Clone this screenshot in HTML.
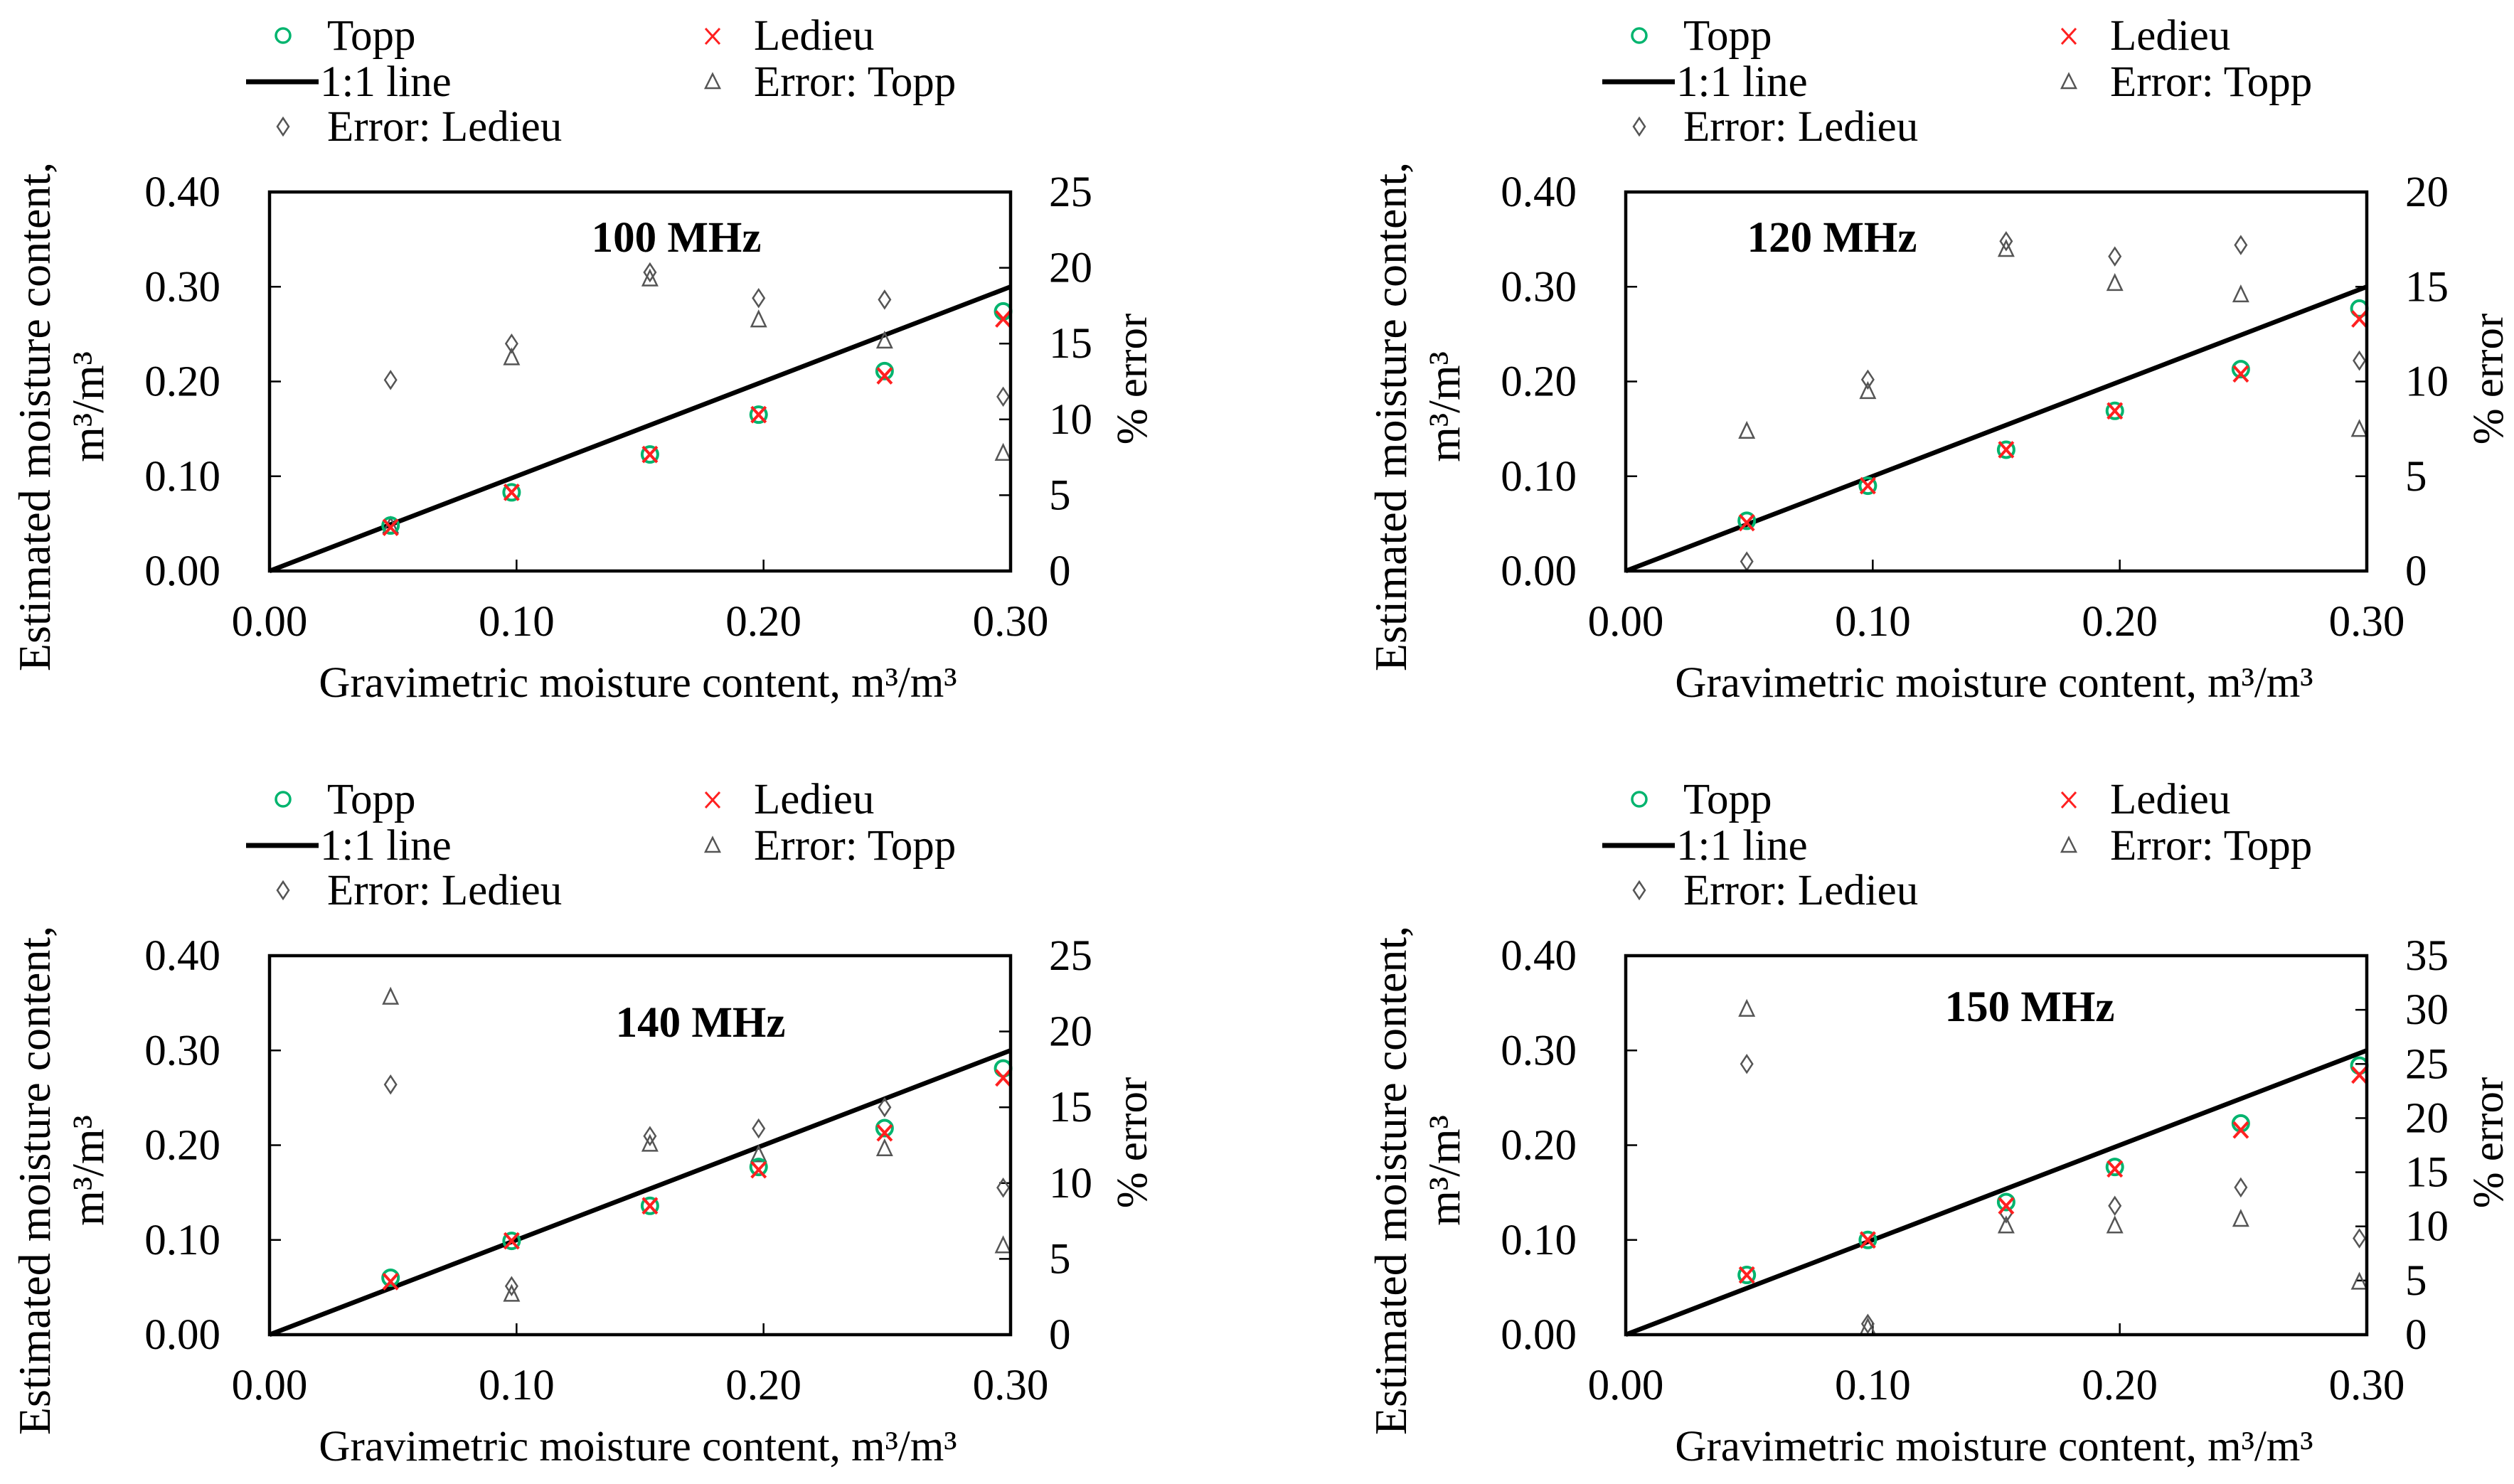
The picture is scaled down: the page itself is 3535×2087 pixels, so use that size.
<!DOCTYPE html>
<html><head><meta charset="utf-8"><style>
html,body{margin:0;padding:0;background:#fff;}
svg{display:block;font-family:"Liberation Serif",serif;}
</style></head><body>
<svg id="chart" width="3535" height="2087" viewBox="0 0 3535 2087" xmlns="http://www.w3.org/2000/svg"></svg>
<script>
// shared x categories (gravimetric moisture content)
const gravX = [0.049, 0.098, 0.154, 0.198, 0.249, 0.297];
// 100 MHz
const topp100 = [0.048, 0.083, 0.123, 0.165, 0.211, 0.274];
const ledieu100 = [0.046, 0.083, 0.123, 0.165, 0.206, 0.266];
const errTopp100 = [3.0, 14.1, 19.3, 16.6, 15.2, 7.8];
const errLedieu100 = [12.6, 15.0, 19.7, 18.0, 17.9, 11.5];
// 120 MHz
const topp120 = [0.053, 0.090, 0.128, 0.169, 0.213, 0.277];
const ledieu120 = [0.051, 0.090, 0.128, 0.169, 0.208, 0.266];
const errTopp120 = [7.4, 9.5, 17.0, 15.2, 14.6, 7.5];
const errLedieu120 = [0.5, 10.1, 17.4, 16.6, 17.2, 11.1];
// 140 MHz
const topp140 = [0.060, 0.099, 0.136, 0.177, 0.218, 0.281];
const ledieu140 = [0.056, 0.099, 0.136, 0.174, 0.213, 0.271];
const errTopp140 = [22.3, 2.7, 12.6, 11.9, 12.3, 5.9];
const errLedieu140 = [16.5, 3.2, 13.1, 13.6, 15.0, 9.7];
// 150 MHz
const topp150 = [0.063, 0.100, 0.140, 0.177, 0.223, 0.284];
const ledieu150 = [0.063, 0.100, 0.136, 0.175, 0.216, 0.274];
const errTopp150 = [30.1, 0.7, 10.1, 10.1, 10.7, 4.9];
const errLedieu150 = [25.0, 1.0, 11.2, 11.9, 13.6, 8.9];
// tick labels
const xTicks = [0.00, 0.10, 0.20, 0.30];
const yTicks = [0.00, 0.10, 0.20, 0.30, 0.40];
const rTicks100 = [0, 5, 10, 15, 20, 25];
const rTicks120 = [0, 5, 10, 15, 20];
const rTicks140 = [0, 5, 10, 15, 20, 25];
const rTicks150 = [0, 5, 10, 15, 20, 25, 30, 35];
const titles = ["100 MHz", "120 MHz", "140 MHz", "150 MHz"];

const NS = "http://www.w3.org/2000/svg";
const svg = document.getElementById("chart");
function mk(tag, attrs, parent, txt){
  const e = document.createElementNS(NS, tag);
  for (const k in attrs) e.setAttribute(k, attrs[k]);
  if (txt !== undefined) e.textContent = txt;
  (parent || svg).appendChild(e);
  return e;
}
const panels = [
  {dx:0, dy:0, topp:topp100, led:ledieu100, et:errTopp100, el:errLedieu100, rt:rTicks100, title:titles[0], tx:951, ty:334},
  {dx:1907, dy:0, topp:topp120, led:ledieu120, et:errTopp120, el:errLedieu120, rt:rTicks120, title:titles[1], tx:669, ty:334},
  {dx:0, dy:1074, topp:topp140, led:ledieu140, et:errTopp140, el:errLedieu140, rt:rTicks140, title:titles[2], tx:985, ty:364},
  {dx:1907, dy:1074, topp:topp150, led:ledieu150, et:errTopp150, el:errLedieu150, rt:rTicks150, title:titles[3], tx:947, ty:342}
];
const GREEN = "#00b46e", RED = "#ff2020", GREY = "#555";
const FS = 61;
panels.forEach((p, i) => {
  const g = mk("g", {transform:`translate(${p.dx},${p.dy})`});
  
  
  const L = 379, R = 1421, T = 270, B = 803;
  const rMax = p.rt[p.rt.length - 1];
  const sx = v => L + v / 0.30 * (R - L);
  const sy = v => B - v / 0.40 * (B - T);
  const sr = v => B - v / rMax * (B - T);

  // legend
  const lg = mk("g", {}, g);
  
  
  const lc = mk("circle", {cx:398, cy:50, r:10, fill:"none", stroke:GREEN, "stroke-width":3.5}, lg);
   
  const lt1 = mk("text", {x:460, y:70, "font-size":FS}, lg, "Topp");
   
  const lx = mk("path", {d:"M992,40 L1012,62 M1012,40 L992,62", stroke:RED, "stroke-width":3, fill:"none"}, lg);
   
  const lt2 = mk("text", {x:1060, y:70, "font-size":FS}, lg, "Ledieu");
   
  const ll = mk("line", {x1:346, y1:115, x2:448, y2:115, stroke:"#000", "stroke-width":7}, lg);
   
  const lt3 = mk("text", {x:450, y:135, "font-size":FS}, lg, "1:1 line");
   
  const ltr = mk("path", {d:"M1002,104 L1012,124 L992,124 Z", stroke:GREY, "stroke-width":2.5, fill:"none"}, lg);
   
  const lt4 = mk("text", {x:1060, y:135, "font-size":FS}, lg, "Error: Topp");
   
  const ld = mk("path", {d:"M398,166 L406,178 L398,190 L390,178 Z", stroke:GREY, "stroke-width":2.5, fill:"none"}, lg);
   
  const lt5 = mk("text", {x:460, y:198, "font-size":FS}, lg, "Error: Ledieu");
   

  // ticks
  xTicks.forEach(v => {
    if (v > 0 && v < 0.30) {
      const t = mk("line", {x1:sx(v), y1:B, x2:sx(v), y2:B-16, stroke:"#000", "stroke-width":2.5}, g);
       
    }
    const tl = mk("text", {x:sx(v), y:B+91, "font-size":FS, "text-anchor":"middle"}, g, v.toFixed(2));
     
  });
  yTicks.forEach(v => {
    if (v > 0 && v < 0.40) {
      const t = mk("line", {x1:L, y1:sy(v), x2:L+16, y2:sy(v), stroke:"#000", "stroke-width":2.5}, g);
       
    }
    const tl = mk("text", {x:310, y:sy(v)+20, "font-size":FS, "text-anchor":"end"}, g, v.toFixed(2));
     
  });
  p.rt.forEach(v => {
    if (v > 0 && v < rMax) {
      const t = mk("line", {x1:R, y1:sr(v), x2:R-16, y2:sr(v), stroke:"#000", "stroke-width":2.5}, g);
       
    }
    const tl = mk("text", {x:1475, y:sr(v)+20, "font-size":FS}, g, String(v));
     
  });

  // axis titles
  const xt = mk("text", {x:897, y:980, "font-size":FS, "text-anchor":"middle"}, g, "Gravimetric  moisture content, m³/m³");
   
  const yt = mk("text", {transform:"translate(70,586) rotate(-90)", "font-size":64, "text-anchor":"middle"}, g, "Estimated moisture content,");
   
  const yt2 = mk("text", {transform:"translate(145,572) rotate(-90)", "font-size":64, "text-anchor":"middle"}, g, "m³/m³");
   
  const rtt = mk("text", {transform:"translate(1612,533) rotate(-90)", "font-size":FS, "text-anchor":"middle"}, g, "% error");
   

  // title
  const tt = mk("text", {x:L + p.tx - 379, y:p.ty + 20, "font-size":61, "font-weight":"bold", "text-anchor":"middle"}, g, p.title);
   

  // 1:1 line
  const one = mk("line", {x1:sx(0), y1:sy(0), x2:sx(0.30), y2:sy(0.30), stroke:"#000", "stroke-width":6.5}, g);
   

  // error series
  gravX.forEach((xv, k) => {
    const x = sx(xv), yT = sr(p.et[k]), yL = sr(p.el[k]);
    const tri = mk("path", {d:`M${x},${yT-11} L${x+10},${yT+10} L${x-10},${yT+10} Z`, stroke:GREY, "stroke-width":2.5, fill:"none"}, g);
     
    const dia = mk("path", {d:`M${x},${yL-12} L${x+8},${yL} L${x},${yL+12} L${x-8},${yL} Z`, stroke:GREY, "stroke-width":2.5, fill:"none"}, g);
     
  });
  // estimated series
  gravX.forEach((xv, k) => {
    const x = sx(xv), yT = sy(p.topp[k]), yL = sy(p.led[k]);
    const c = mk("circle", {cx:x, cy:yT, r:11, fill:"none", stroke:GREEN, "stroke-width":4}, g);
     
    const xm = mk("path", {d:`M${x-10},${yL-11} L${x+10},${yL+11} M${x+10},${yL-11} L${x-10},${yL+11}`, stroke:RED, "stroke-width":4, fill:"none"}, g);
     
  });

  // plot frame
  const fr = mk("rect", {x:L, y:T, width:R-L, height:B-T, fill:"none", stroke:"#000", "stroke-width":4.5}, g);
   
});
</script>
</body></html>
